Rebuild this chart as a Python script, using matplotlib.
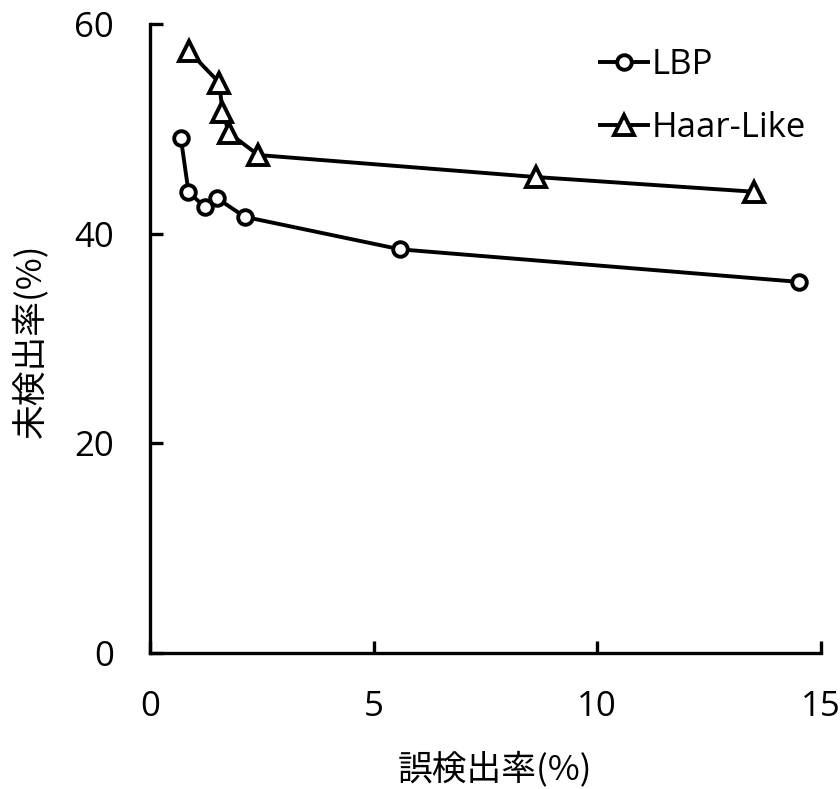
import matplotlib
matplotlib.use("Agg")
import matplotlib.pyplot as plt

plt.rcParams['font.family'] = ['Open Sans', 'Noto Sans CJK JP', 'DejaVu Sans']

# false detection rate (%) / miss rate (%)
lbp_x = [0.69, 0.86, 1.23, 1.49, 2.12, 5.60, 14.51]
lbp_y = [49.1, 44.0, 42.5, 43.4, 41.6, 38.5, 35.4]
haar_x = [0.87, 1.55, 1.62, 1.77, 2.42, 8.63, 13.50]
haar_y = [57.4, 54.4, 51.6, 49.6, 47.5, 45.4, 44.0]

x_ticks = [0, 5, 10, 15]
y_ticks = [0, 20, 40, 60]

fig = plt.figure(figsize=(8.4, 7.89), dpi=100)
ax = fig.add_axes([0.1786, 0.1724, 0.7984, 0.7972])

style = dict(color='black', lw=2.8, markerfacecolor='white',
             markeredgecolor='black', markeredgewidth=2.8)
ax.plot(lbp_x, lbp_y, marker='o', markersize=10.5, label='LBP', **style)
ax.plot(haar_x, haar_y, marker='^', markersize=14, label='Haar-Like', **style)

ax.set_xlim(0, 15)
ax.set_ylim(0, 60)
ax.set_xticks(x_ticks)
ax.set_yticks(y_ticks)
ax.spines['top'].set_visible(False)
ax.spines['right'].set_visible(False)
for s in ('left', 'bottom'):
    ax.spines[s].set_linewidth(2.4)
ax.tick_params(direction='in', length=9, width=2.4, labelsize=25)
ax.tick_params(axis='y', pad=26)
ax.tick_params(axis='x', pad=27)

cjk = ['Noto Sans CJK JP', 'DejaVu Sans']
ax.set_xlabel('誤検出率(%)', fontsize=25, family=cjk)
ax.set_ylabel('未検出率(%)', fontsize=25, family=cjk, va='center')
ax.xaxis.set_label_coords(0.514, -0.156)
ax.yaxis.set_label_coords(-0.178, 0.496)

ax.legend(loc='upper left', bbox_to_anchor=(0.671, 0.962), frameon=False, fontsize=25,
          handlelength=1.38, handletextpad=0.12, labelspacing=0.85,
          borderaxespad=0, borderpad=0)

fig.savefig('out.png', dpi=100)
